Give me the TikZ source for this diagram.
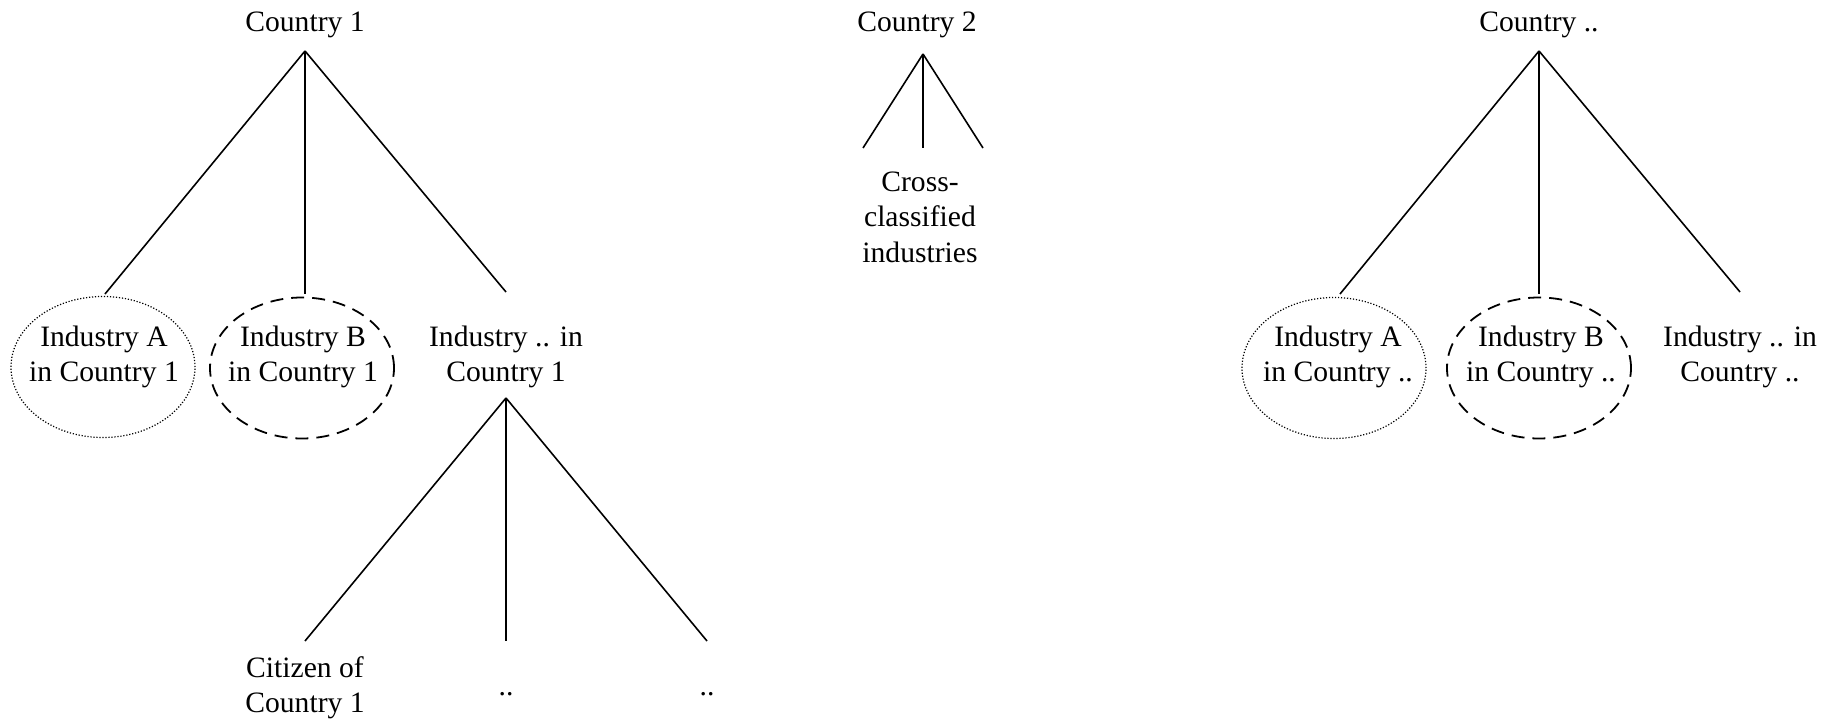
\documentclass[tikz,border=0pt]{standalone}
\usepackage{fontspec}
\setmainfont{Liberation Serif}
\usetikzlibrary{shapes.geometric}
\begin{document}
\begin{tikzpicture}[x=1pt,y=-1pt,
  lbl/.style={font=\fontsize{29.6}{34.5}\selectfont, align=center, inner sep=0pt},
  link/.style={line width=1.6pt},
  ellbase/.style={ellipse, draw, inner sep=0pt, minimum width=184pt, minimum height=141pt},
  dotell/.style={ellbase, line width=1.2pt, dash pattern=on 1.2pt off 1.8pt},
  dashell/.style={ellbase, line width=1.8pt, dash pattern=on 13pt off 8pt}]
\useasboundingbox (0,0) rectangle (1832,720);

% ---- Country 1 ----
\node[lbl] (c1) at (305,25) {Country 1};
\coordinate (c1top) at (305,51);
\coordinate (c1l) at (105,294);
\coordinate (c1m) at (305,294);
\coordinate (c1r) at (506,292);
\draw[link] (c1top) -- (c1l);
\draw[link] (c1top) -- (c1m);
\draw[link] (c1top) -- (c1r);

\node[dotell] (e1a) at (103,367) {};
\node[lbl] (i1a) at (104,357) {Industry A\\in Country 1};
\node[dashell] (e1b) at (302,368) {};
\node[lbl] (i1b) at (303,357) {Industry B\\in Country 1};
\node[lbl] (i1x) at (506,357) {Industry .. in\\Country 1};

\coordinate (i1top) at (506,398);
\coordinate (i1l) at (305,641);
\coordinate (i1m) at (506,641);
\coordinate (i1r) at (707,641);
\draw[link] (i1top) -- (i1l);
\draw[link] (i1top) -- (i1m);
\draw[link] (i1top) -- (i1r);
\node[lbl] (cit) at (305,688) {Citizen of\\Country 1};
\node[lbl] (d1) at (506,694) {..};
\node[lbl] (d2) at (707,694) {..};

% ---- Country 2 ----
\node[lbl] (c2) at (917,25) {Country 2};
\coordinate (c2top) at (923,54);
\coordinate (c2l) at (863,148);
\coordinate (c2m) at (923,148);
\coordinate (c2r) at (983,148);
\draw[link] (c2top) -- (c2l);
\draw[link] (c2top) -- (c2m);
\draw[link] (c2top) -- (c2r);
\node[lbl, font=\fontsize{29.6}{35.5}\selectfont] (cc) at (920,217) {Cross-\\classified\\industries};

% ---- Country .. ----
\node[lbl] (cn) at (1539,25) {Country ..};
\coordinate (cntop) at (1539,51);
\coordinate (cnl) at (1340,294);
\coordinate (cnm) at (1539,294);
\coordinate (cnr) at (1740,292);
\draw[link] (cntop) -- (cnl);
\draw[link] (cntop) -- (cnm);
\draw[link] (cntop) -- (cnr);

\node[dotell] (ena) at (1334,368) {};
\node[lbl] (ina) at (1338,357) {Industry A\\in Country ..};
\node[dashell] (enb) at (1539,368) {};
\node[lbl] (inb) at (1541,357) {Industry B\\in Country ..};
\node[lbl] (inx) at (1740,357) {Industry .. in\\Country ..};
\end{tikzpicture}
\end{document}
